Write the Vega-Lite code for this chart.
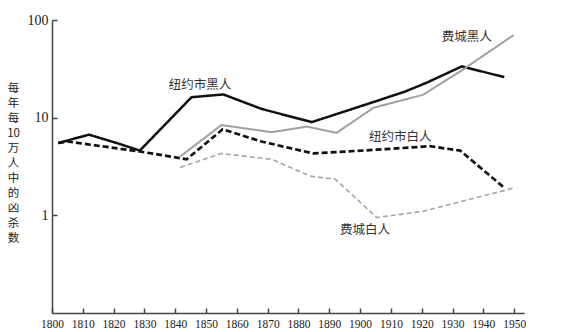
{
  "$schema": "https://vega.github.io/schema/vega-lite/v6.json",
  "width": 472,
  "height": 293,
  "autosize": "none",
  "padding": {"left": 52, "top": 20, "right": 42, "bottom": 19},
  "background": "white",
  "config": {
    "view": {"stroke": null},
    "axis": {
      "grid": false,
      "domainColor": "#444",
      "domainWidth": 1.5,
      "tickColor": "#444",
      "tickWidth": 1.5,
      "tickSize": -5,
      "labelFont": "Liberation Serif",
      "labelFontSize": 12,
      "labelColor": "#222"
    }
  },
  "datasets": {
    "series": [
      {"group": "NYC Black", "year": 1802, "rate": 5.5},
      {"group": "NYC Black", "year": 1812, "rate": 6.7},
      {"group": "NYC Black", "year": 1821, "rate": 5.5},
      {"group": "NYC Black", "year": 1828.5, "rate": 4.6},
      {"group": "NYC Black", "year": 1845.3, "rate": 16.2},
      {"group": "NYC Black", "year": 1855.6, "rate": 17.3},
      {"group": "NYC Black", "year": 1868, "rate": 12.3},
      {"group": "NYC Black", "year": 1884.3, "rate": 9.0},
      {"group": "NYC Black", "year": 1903, "rate": 14},
      {"group": "NYC Black", "year": 1914.6, "rate": 18.5},
      {"group": "NYC Black", "year": 1921.6, "rate": 22.8},
      {"group": "NYC Black", "year": 1933, "rate": 33.5},
      {"group": "NYC Black", "year": 1946.8, "rate": 26},
      {"group": "Phila Black", "year": 1841.6, "rate": 4.0},
      {"group": "Phila Black", "year": 1855, "rate": 8.4},
      {"group": "Phila Black", "year": 1871.3, "rate": 7.1},
      {"group": "Phila Black", "year": 1882.7, "rate": 8.1},
      {"group": "Phila Black", "year": 1892.4, "rate": 7.0},
      {"group": "Phila Black", "year": 1904.3, "rate": 12.6},
      {"group": "Phila Black", "year": 1920.5, "rate": 17.2},
      {"group": "Phila Black", "year": 1933, "rate": 30.5},
      {"group": "Phila Black", "year": 1949.8, "rate": 70},
      {"group": "NYC White", "year": 1802, "rate": 5.5},
      {"group": "NYC White", "year": 1805, "rate": 5.7},
      {"group": "NYC White", "year": 1828.6, "rate": 4.5},
      {"group": "NYC White", "year": 1843.7, "rate": 3.75},
      {"group": "NYC White", "year": 1855.4, "rate": 7.6},
      {"group": "NYC White", "year": 1868, "rate": 5.7},
      {"group": "NYC White", "year": 1884.8, "rate": 4.3},
      {"group": "NYC White", "year": 1905.4, "rate": 4.7},
      {"group": "NYC White", "year": 1922.7, "rate": 5.1},
      {"group": "NYC White", "year": 1932.5, "rate": 4.6},
      {"group": "NYC White", "year": 1946.5, "rate": 1.95},
      {"group": "Phila White", "year": 1841.6, "rate": 3.1},
      {"group": "Phila White", "year": 1855, "rate": 4.3},
      {"group": "Phila White", "year": 1871.3, "rate": 3.75},
      {"group": "Phila White", "year": 1880.5, "rate": 2.8},
      {"group": "Phila White", "year": 1884.3, "rate": 2.5},
      {"group": "Phila White", "year": 1891.9, "rate": 2.35},
      {"group": "Phila White", "year": 1905.4, "rate": 0.95},
      {"group": "Phila White", "year": 1920.5, "rate": 1.1},
      {"group": "Phila White", "year": 1950.3, "rate": 1.92}
    ],
    "labels": [
      {"text": "纽约市黑人", "year": 1848, "rate": 21.6},
      {"text": "费城黑人", "year": 1934.6, "rate": 66.5},
      {"text": "纽约市白人", "year": 1913, "rate": 6.4},
      {"text": "费城白人", "year": 1901.6, "rate": 0.71}
    ]
  },
  "encoding": {
    "x": {
      "field": "year", "type": "quantitative",
      "scale": {"domain": [1800, 1953.2], "nice": false, "zero": false},
      "axis": {"values": [1800,1810,1820,1830,1840,1850,1860,1870,1880,1890,1900,1910,1920,1930,1940,1950], "format": "d", "title": null, "labelPadding": 10, "labelOverlap": false, "labelFlush": false, "labelSeparation": 0, "labelFontSize": 11.5, "labelFont": "Liberation Serif"}
    },
    "y": {
      "field": "rate", "type": "quantitative",
      "scale": {"type": "log", "domain": [0.1, 100], "nice": false},
      "axis": {
        "values": [1, 10, 100], "format": "d", "labelPadding": 9, "labelOverlap": false, "labelFlush": false, "labelFontSize": 14, "labelFont": "Liberation Serif",
        "title": ["每","年","每","10","万","人","中","的","凶","杀","数"],
        "titleAngle": 0, "titleFont": "Noto Sans CJK SC", "titleFontSize": 11.5,
        "titleFontWeight": "normal", "titleColor": "#222",
        "titleLineHeight": 15, "titleX": -39, "titleY": 62,
        "titleAlign": "center", "titleBaseline": "top"
      }
    }
  },
  "layer": [
    {
      "data": {"name": "series"},
      "mark": {"type": "line", "clip": true},
      "encoding": {
        "detail": {"field": "group"},
        "color": {
          "field": "group", "legend": null,
          "scale": {"domain": ["NYC Black","Phila Black","NYC White","Phila White"], "range": ["#111111","#a0a0a0","#111111","#a8a8a8"]}
        },
        "strokeDash": {
          "field": "group", "legend": null,
          "scale": {"domain": ["NYC Black","Phila Black","NYC White","Phila White"], "range": [[1,0],[1,0],[6,3],[5,3]]}
        },
        "strokeWidth": {
          "field": "group", "legend": null,
          "scale": {"type": "ordinal", "domain": ["NYC Black","Phila Black","NYC White","Phila White"], "range": [2.5,2,2.7,1.7]}
        }
      }
    },
    {
      "data": {"name": "labels"},
      "mark": {"type": "text", "font": "Noto Sans CJK SC", "fontSize": 12.5, "color": "#333", "align": "center", "baseline": "middle"},
      "encoding": {
        "text": {"field": "text"}
      }
    }
  ]
}
